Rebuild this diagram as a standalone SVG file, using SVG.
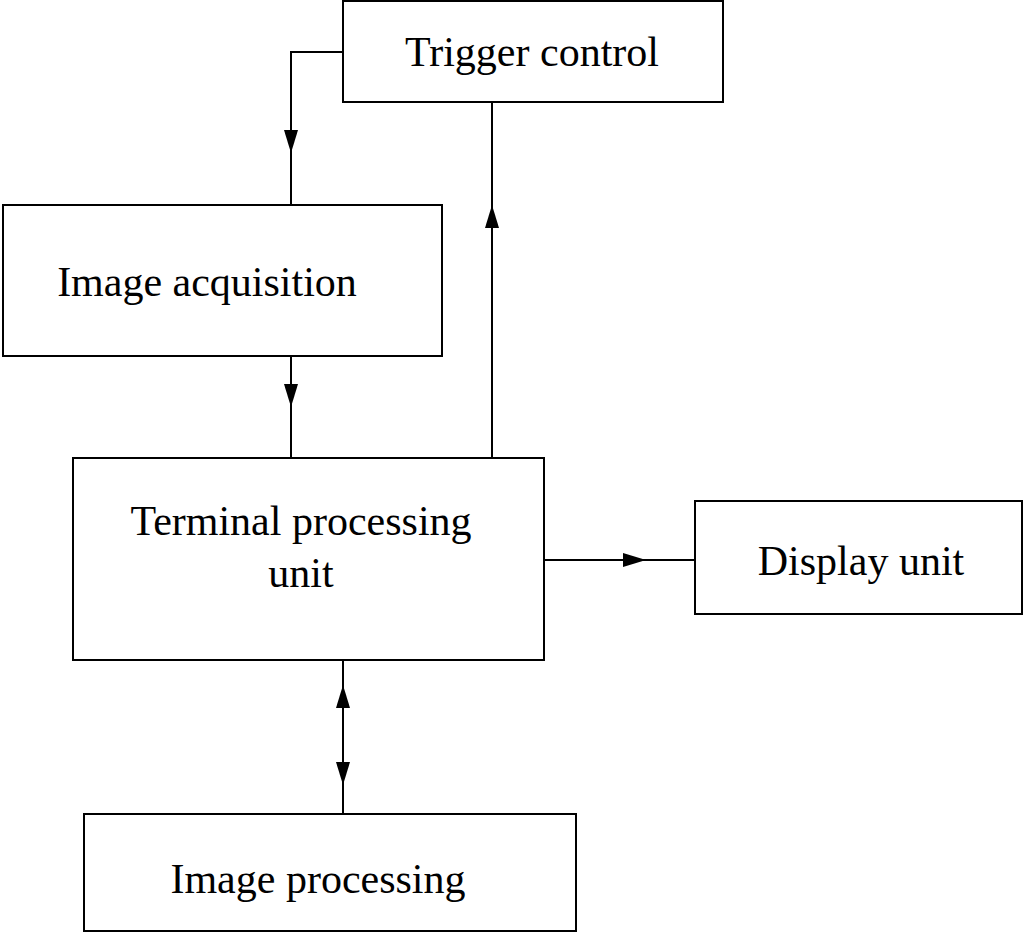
<svg xmlns="http://www.w3.org/2000/svg" width="1024" height="933" viewBox="0 0 1024 933">
<style>
.box{fill:#fff;stroke:#000;stroke-width:2}
.t{font-family:"Liberation Serif",serif;font-size:42px;fill:#000}
.ln{fill:none;stroke:#000;stroke-width:2}
.ah{fill:#000}
</style>
<rect width="1024" height="933" fill="#fff"/>
<g id="connectors">
<path class="ln" d="M343 52H291V205"/>
<polygon class="ah" points="284,130 298,130 291,153"/>
<path class="ln" d="M291 356V458"/>
<polygon class="ah" points="284,384 298,384 291,407"/>
<path class="ln" d="M492 458V102"/>
<polygon class="ah" points="485,228 499,228 492,205"/>
<path class="ln" d="M544 560H695"/>
<polygon class="ah" points="623,553 623,567 646,560"/>
<path class="ln" d="M343 660V814"/>
<polygon class="ah" points="336,708 350,708 343,685"/>
<polygon class="ah" points="336,762 350,762 343,785"/>
</g>
<g id="trigger"><rect class="box" x="343" y="1" width="380" height="101"/><text class="t" x="532" y="66" text-anchor="middle">Trigger control</text></g>
<g id="acquisition"><rect class="box" x="3" y="205" width="439" height="151"/><text class="t" x="207" y="296" text-anchor="middle">Image acquisition</text></g>
<g id="terminal"><rect class="box" x="73" y="458" width="471" height="202"/><text class="t" x="301" y="535" text-anchor="middle">Terminal processing</text><text class="t" x="301" y="587" text-anchor="middle">unit</text></g>
<g id="display"><rect class="box" x="695" y="501" width="327" height="113"/><text class="t" x="861" y="575" text-anchor="middle">Display unit</text></g>
<g id="processing"><rect class="box" x="84" y="814" width="492" height="117"/><text class="t" x="318" y="893" text-anchor="middle">Image processing</text></g>
</svg>
